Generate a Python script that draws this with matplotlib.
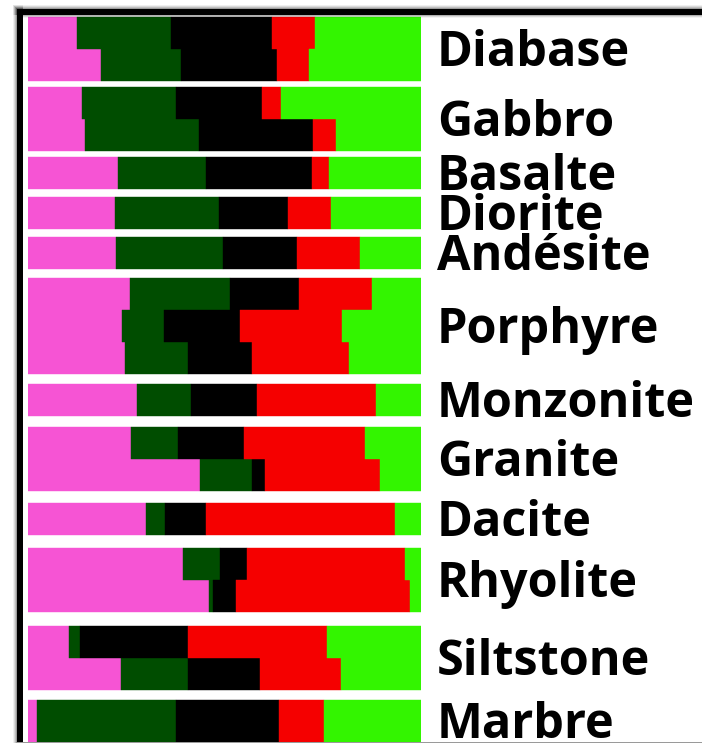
import matplotlib
matplotlib.use("Agg")
import matplotlib.pyplot as plt
from matplotlib.patches import Rectangle
import numpy as np

# rock names and how many sub-rows each one has
rocks = ["Diabase", "Gabbro", "Basalte", "Diorite", "Andésite", "Porphyre",
         "Monzonite", "Granite", "Dacite", "Rhyolite", "Siltstone", "Marbre"]
rows_per_rock = [2, 2, 1, 1, 1, 3, 1, 2, 1, 2, 2, 1]

# share of each component per row (percent), top to bottom
pink = [12.5, 18.6, 13.7, 14.5, 22.9, 22.1, 22.4, 26.0, 23.9, 24.7,
        27.7, 26.2, 43.8, 30.0, 39.4, 46.1, 10.4, 23.7, 2.3]
dark_green = [23.9, 20.4, 23.9, 29.0, 22.4, 26.5, 27.2, 25.4, 10.7, 16.0,
              13.7, 12.0, 13.2, 4.8, 9.4, 1.0, 2.8, 17.0, 35.4]
black = [25.7, 24.4, 21.9, 29.0, 27.0, 17.6, 18.8, 17.6, 19.3, 16.3,
         16.8, 16.8, 3.3, 10.4, 6.9, 5.9, 27.5, 18.3, 26.2]
red = [10.9, 8.1, 4.8, 5.9, 4.3, 10.9, 16.0, 18.6, 26.0, 24.7,
       30.3, 30.8, 29.3, 48.1, 40.2, 44.3, 35.4, 20.6, 11.5]
green = [27.0, 28.5, 35.6, 21.6, 23.4, 22.9, 15.5, 12.5, 20.1, 18.3,
         11.5, 14.2, 10.4, 6.6, 4.1, 2.8, 23.9, 20.4, 24.7]

series = [pink, dark_green, black, red, green]
colors = ["#f654d4", "#004d00", "#000000", "#f50000", "#33f500"]

# layout in pixels (figure is 702 x 743 at dpi 100)
W, H = 702, 743
row_h = 32
top = 17
bottom = 742
gaps = [6, 6, 8, 8, 9, 10, 11, 12, 13, 14, 10]

fig = plt.figure(figsize=(W / 100, H / 100), dpi=100)
fig.patch.set_facecolor("white")

ax = fig.add_axes([28 / W, 0, 393 / W, 1])
ax.set_xlim(0, 100)
ax.set_ylim(H, 0)
ax.axis("off")

# row tops / heights, and group centres for the labels
row_y = []
row_hh = []
centers = []
y = top
for i, n in enumerate(rows_per_rock):
    g0 = y
    for k in range(n):
        row_y.append(y)
        row_hh.append(row_h)
        y += row_h
    centers.append((g0 + y) / 2)
    if i < len(gaps):
        y += gaps[i]
# last row runs down to the frame
row_hh[-1] = bottom - row_y[-1]
centers[-1] = (row_y[-1] + bottom) / 2

row_y = np.array(row_y, dtype=float)
row_hh = np.array(row_hh, dtype=float)
left = np.zeros(len(row_y))
for vals, c in zip(series, colors):
    vals = np.array(vals)
    ax.barh(row_y + row_hh / 2, vals, left=left, height=row_hh,
            color=c, edgecolor=c, linewidth=0.3)
    left += vals

# labels
for name, cy in zip(rocks, centers):
    ax.text(104.0, cy + 17, name, ha="left", va="baseline",
            fontsize=35, fontweight="bold", family=["Open Sans", "DejaVu Sans"],
            color="black", clip_on=False)

# frame on top, in pixel coordinates
fr = fig.add_axes([0, 0, 1, 1])
fr.set_xlim(0, W)
fr.set_ylim(H, 0)
fr.axis("off")
fr.patch.set_alpha(0)
# soft shadow
for d, a in [(4, 0.06), (3, 0.09), (2, 0.12), (1, 0.18)]:
    fr.add_patch(Rectangle((17 - d, 9 - d), 6 + d, H, color="black", alpha=a, lw=0))
    fr.add_patch(Rectangle((17 - d, 9 - d), W, 6 + d, color="black", alpha=a, lw=0))
for d, a in [(1, 0.18), (2, 0.10), (3, 0.05)]:
    fr.add_patch(Rectangle((23, 15), W, d, color="black", alpha=a, lw=0))
fr.add_patch(Rectangle((17, 9), 6, H, color="black", lw=0))
fr.add_patch(Rectangle((17, 9), W, 6, color="black", lw=0))
fr.add_patch(Rectangle((17, 741.5), W, 1.5, color="#9a9a9a", lw=0))

fig.savefig("out.png", dpi=100, facecolor="white")
